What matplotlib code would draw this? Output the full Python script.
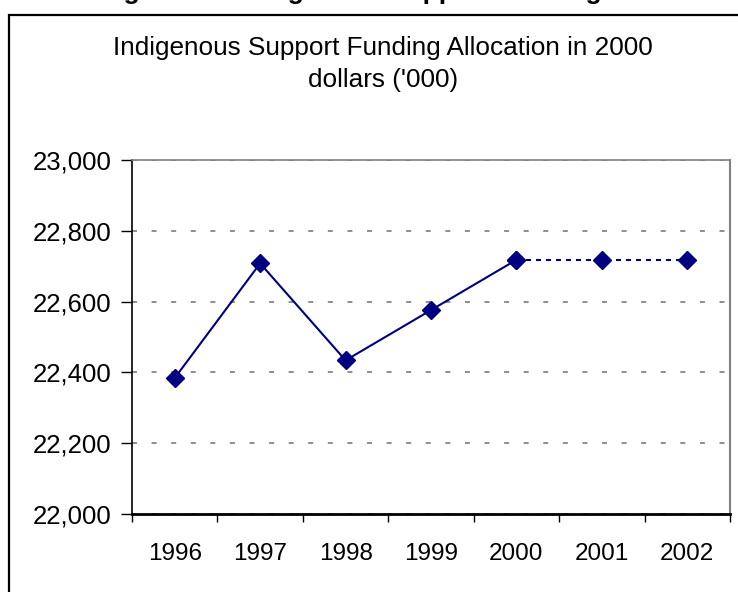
import matplotlib
matplotlib.use("Agg")
import matplotlib.pyplot as plt
from matplotlib.patches import Rectangle
from matplotlib.ticker import FuncFormatter, FixedLocator, NullFormatter
import numpy as np

years = ["1996", "1997", "1998", "1999", "2000", "2001", "2002"]
actual = [22384, 22708, 22434, 22576, 22718]
projected = [22718, 22718, 22718]

plt.rcParams["font.family"] = ["Liberation Sans", "DejaVu Sans"]
plt.rcParams["lines.scale_dashes"] = False

navy = "#000080"

fig = plt.figure(figsize=(7.38, 5.92), dpi=100)
ax = fig.add_axes([132 / 738, 78 / 592, 598 / 738, 354 / 592])

x = np.arange(len(years))
ax.plot(x[:len(actual)], actual, color=navy, lw=1.5, marker="D", ms=9,
        zorder=3)
ax.plot(x[len(actual) - 1:], projected, color=navy, lw=1.5,
        linestyle=(0, (3.6, 3.6)), marker="D", ms=9, zorder=3)

ax.set_xlim(-0.5, len(years) - 0.5)
ax.set_ylim(22000, 23000)
ax.set_yticks(np.arange(22000, 23001, 200))
ax.yaxis.set_major_formatter(FuncFormatter(lambda v, p: f"{int(v):,}"))
ax.yaxis.grid(True, color="#707070", linestyle=(0, (3.6, 10.5)), lw=1.1)

# category labels centred, tick marks on the boundaries
ax.set_xticks(x)
ax.set_xticklabels(years)
ax.tick_params(axis="x", which="major", length=0, pad=21, labelsize=17.5)
ax.xaxis.set_minor_locator(FixedLocator(np.arange(-0.5, len(years), 1.0)))
ax.xaxis.set_minor_formatter(NullFormatter())
ax.tick_params(axis="x", which="minor", length=6, width=1, color="black")
ax.tick_params(axis="y", length=8, width=1, pad=7, labelsize=18.5)

ax.spines["left"].set_linewidth(1.2)
ax.spines["bottom"].set_linewidth(2)
ax.spines["top"].set_color("#808080")
ax.spines["right"].set_color("#808080")
ax.spines["top"].set_linewidth(1.2)
ax.spines["right"].set_linewidth(1.5)

fig.text(383 / 738, 1 - 48 / 592, "Indigenous Support Funding Allocation in 2000",
         ha="center", va="center", fontsize=18.8)
fig.text(383 / 738, 1 - 80 / 592, "dollars ('000)",
         ha="center", va="center", fontsize=18.8)

# heading of the surrounding page, mostly above the frame
fig.text(100 / 738, 1 + 1.5 / 592, "Figure 2.1: Indigenous Support Funding",
         ha="left", va="baseline", fontsize=19, fontweight="bold")

# chart frame
fig.patches.append(Rectangle((9 / 738, -0.2), 1.2, 1.2 - 15 / 592,
                             transform=fig.transFigure, fill=False,
                             edgecolor="black", lw=1.6))

fig.savefig("out.png", dpi=100)
